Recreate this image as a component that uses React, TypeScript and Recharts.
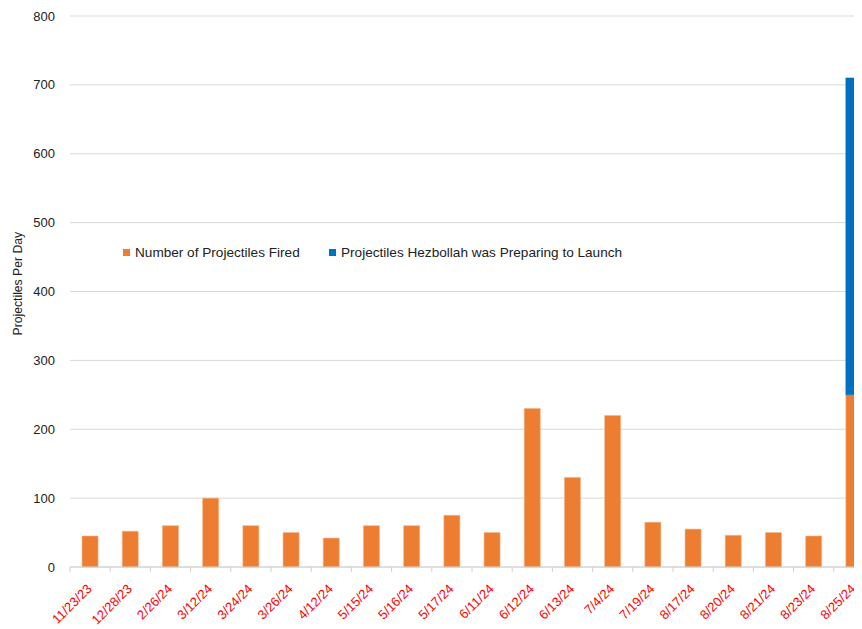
import React from 'react';
import {
  BarChart,
  Bar,
  XAxis,
  YAxis,
  CartesianGrid,
  Legend,
} from 'recharts';

const dates = [
  '11/23/23', '12/28/23', '2/26/24', '3/12/24', '3/24/24',
  '3/26/24', '4/12/24', '5/15/24', '5/16/24', '5/17/24',
  '6/11/24', '6/12/24', '6/13/24', '7/4/24', '7/19/24',
  '8/17/24', '8/20/24', '8/21/24', '8/23/24', '8/25/24',
];

const fired = [45, 52, 60, 100, 60, 50, 42, 60, 60, 75, 50, 230, 130, 220, 65, 55, 46, 50, 45, 250];

const preparing = [null, null, null, null, null, null, null, null, null, null, null, null, null, null, null, null, null, null, null, 460];

const yTicks = [0, 100, 200, 300, 400, 500, 600, 700, 800];

const series = [
  { key: 'fired', name: 'Number of Projectiles Fired', color: '#ED7D31' },
  { key: 'preparing', name: 'Projectiles Hezbollah was Preparing to Launch', color: '#0070C0' },
];

const data = dates.map((date, i) => ({
  date,
  idx: i + 0.5,
  fired: fired[i],
  preparing: preparing[i],
}));

// tick marks sit on the band edges, not at the band centres
const edgeTicks = [...dates.map((_, i) => i), dates.length];

const font = '"Liberation Sans", Arial, sans-serif';

const LegendBox = () => (
  <div style={{ display: 'flex', fontFamily: font, fontSize: 13.6, color: '#222' }}>
    {series.map((s, i) => (
      <div key={s.key} style={{ display: 'flex', alignItems: 'center', width: i === 0 ? 206 : 'auto' }}>
        <span style={{ width: 7, height: 7, background: s.color, marginRight: 5, display: 'inline-block' }} />
        <span style={{ whiteSpace: 'nowrap' }}>{s.name}</span>
      </div>
    ))}
  </div>
);

export default function App() {
  return (
    <div style={{ width: 854, height: 621, overflow: 'hidden' }}>
      <BarChart
        width={880}
        height={621}
        data={data}
        margin={{ top: 8, right: 14, left: 0, bottom: 0 }}
        barCategoryGap="30%"
      >
        <CartesianGrid vertical={false} stroke="#D9D9D9" xAxisId="axisB" />
        <XAxis
          xAxisId="axisA"
          type="number"
          dataKey="idx"
          domain={[0, dates.length]}
          ticks={edgeTicks}
          tickFormatter={() => ''}
          stroke="#D0D0D0"
          tickSize={5}
          height={6}
          allowDataOverflow
        />
        <XAxis
          xAxisId="axisB"
          dataKey="date"
          axisLine={false}
          tickLine={false}
          interval={0}
          angle={-45}
          textAnchor="end"
          tickSize={0}
          tickMargin={10}
          dx={-4}
          height={56}
          tick={{ fill: '#FF0000', fontSize: 13, fontFamily: font }}
        />
        <YAxis
          domain={[0, 800]}
          ticks={yTicks}
          axisLine={false}
          tickLine={false}
          tickSize={0}
          tickMargin={15}
          width={62}
          tick={{ fill: '#222', fontSize: 13, fontFamily: font }}
          label={{
            value: 'Projectiles Per Day',
            angle: -90,
            position: 'insideLeft',
            offset: 10,
            dy: 44,
            style: { fill: '#222', fontSize: 12.2, fontFamily: font },
          }}
        />
        <Legend
          content={<LegendBox />}
          layout="horizontal"
          verticalAlign="middle"
          align="center"
          wrapperStyle={{ position: 'absolute', top: 237, left: 115, width: 'auto' }}
        />
        {series.map(s => (
          <Bar
            key={s.key}
            xAxisId="axisB"
            dataKey={s.key}
            name={s.name}
            stackId="a"
            fill={s.color}
            stroke={s.key === 'fired' ? '#F4B183' : s.color}
            strokeWidth={0.6}
            isAnimationActive={false}
          />
        ))}
      </BarChart>
    </div>
  );
}
